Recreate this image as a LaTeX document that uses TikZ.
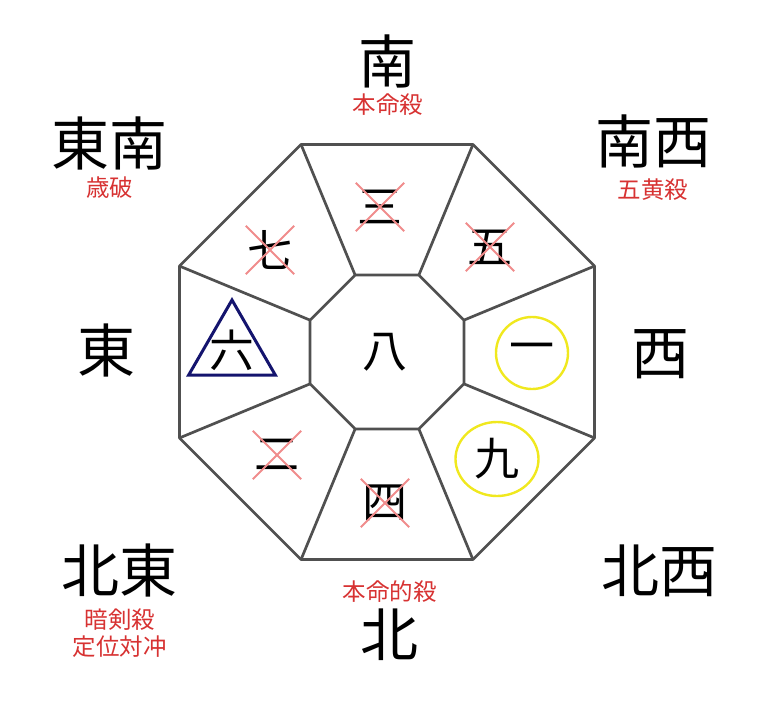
\documentclass[tikz,border=0pt]{standalone}
\usepackage{fontspec}
\newfontfamily\jp{Noto Sans CJK JP}
\usetikzlibrary{positioning, shapes.geometric}
\definecolor{wallgray}{RGB}{80,80,80}
\definecolor{killred}{RGB}{215,50,50}
\definecolor{crossred}{RGB}{240,140,140}
\definecolor{luckyyellow}{RGB}{240,232,30}
\definecolor{tri}{RGB}{20,20,110}
\tikzset{
  wall/.style={draw=wallgray, line width=2.7pt, line join=round},
  dir/.style={font=\jp\fontsize{58}{58}\selectfont, inner sep=0pt},
  kill/.style={font=\jp\fontsize{23.5}{27}\selectfont, text=killred, inner sep=0pt, align=center},
  cellnum/.style={font=\jp\fontsize{45}{45}\selectfont, inner sep=0pt, minimum size=48pt},
  crossout/.style={draw=crossred, line width=1.8pt},
  lucky/.style={draw=luckyyellow, line width=2.4pt},
  warn/.style={draw=tri, line width=3pt, line join=miter}
}

\begin{document}
\begin{tikzpicture}[x=1pt, y=1pt]
    \useasboundingbox (-387,-361) rectangle (395,352);
    \foreach \k in {1,...,8} {
      \coordinate (o\k) at ({45*\k-22.5}:224.6pt);
      \coordinate (i\k) at ({45*\k-22.5}:83.3pt);
    }
    \draw[wall] (o1) -- (o2) -- (o3) -- (o4) -- (o5) -- (o6) -- (o7) -- (o8) -- cycle;
    \draw[wall] (i1) -- (i2) -- (i3) -- (i4) -- (i5) -- (i6) -- (i7) -- (i8) -- cycle;
    \foreach \k in {1,...,8}
      \draw[wall] (i\k) -- (o\k);

    \node[dir] (s)  at (1,291)     {南};
    \node[dir] (se) at (-277,209)  {東南};
    \node[dir] (sw) at (266,211)   {南西};
    \node[dir] (e)  at (-280,2)    {東};
    \node[dir] (w)  at (273,-2)    {西};
    \node[dir] (ne) at (-267,-218) {北東};
    \node[dir] (nw) at (272,-219)  {北西};
    \node[dir] (n)  at (3,-283)    {北};

    \node[kill, below=6pt of s]  (sk)  {本命殺};
    \node[kill, below=7pt of se] (sek) {歳破};
    \node[kill, below=11pt of sw] (swk) {五黄殺};
    \node[kill, below=12pt of ne] (nek) {暗剣殺\\定位対冲};
    \node[kill, above=6pt of n]  (nk)  {本命的殺};

    \node[cellnum] (c8) at (-2,0)      {八};
    \node[cellnum] (c3) at (-7,145)    {三};
    \node[cellnum] (c7) at (-117,102)  {七};
    \node[cellnum] (c5) at (103,105)   {五};
    \node[cellnum] (c2) at (-110,-103) {二};
    \node[cellnum] (c4) at (-2,-151)   {四};
    \node[cellnum] (c6) at (-155,2)    {六};
    \node[cellnum, lucky, circle, minimum size=72pt] (c1) at (145,-1) {一};
    \node[cellnum, lucky, ellipse, minimum width=83pt, minimum height=74pt] (c9) at (110,-107) {九};

    \draw[warn] ([shift={(90:50)}]c6.center) -- ([shift={(210:50)}]c6.center)
      -- ([shift={(330:50)}]c6.center) -- cycle;
    \foreach \c in {c3,c7,c5,c2,c4}
      \draw[crossout] (\c.north west) -- (\c.south east) (\c.south west) -- (\c.north east);
\end{tikzpicture}
\end{document}
